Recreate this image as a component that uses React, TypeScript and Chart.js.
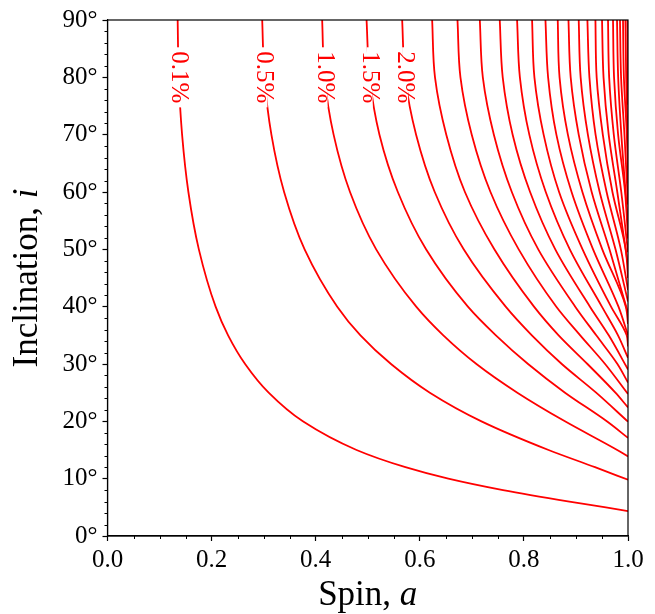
import { useEffect, useRef } from "react";
import { Chart, registerables } from "chart.js";

Chart.register(...registerables);

// contour levels (percent)
const levels = [0.1, 0.5, 1.0, 1.5, 2.0, 2.5, 3.0, 3.5, 4.0, 4.5, 5.0, 5.5, 6.0, 6.5, 7.0, 7.5, 8.0, 8.5, 9.0, 9.5, 10.0, 10.5, 11.0, 11.5, 12.0];
const labelledLevels = [0.1, 0.5, 1.0, 1.5, 2.0];
const labelInclination = 80;

// inclinations (deg) at which the spin of each contour is read
const inclinationGrid = [90, 80, 70, 60, 50, 40, 35, 30, 25, 20, 15, 12, 10, 8, 6, 5];

// spin a of each contour at the inclinations above (stops once the contour reaches a = 1)
const spin0p1 = [0.1348, 0.1368, 0.1433, 0.1554, 0.1755, 0.2077, 0.2317, 0.2644, 0.3096, 0.3753, 0.4785, 0.5724, 0.6548, 0.7599, 0.8874, 0.9575];
const spin0p5 = [0.2972, 0.3015, 0.3149, 0.3393, 0.3787, 0.4414, 0.486, 0.5447, 0.6193, 0.7185, 0.8474, 0.9366];
const spin1p0 = [0.4124, 0.417, 0.4344, 0.4659, 0.5162, 0.5931, 0.6452, 0.7088, 0.7874, 0.8789, 0.9793];
const spin1p5 = [0.4977, 0.5036, 0.5225, 0.5578, 0.612, 0.6924, 0.7462, 0.808, 0.879, 0.9593];
const spin2p0 = [0.5661, 0.5718, 0.5929, 0.6287, 0.6843, 0.765, 0.8153, 0.8728, 0.9388];
const spin2p5 = [0.6237, 0.6292, 0.6509, 0.6867, 0.7432, 0.8194, 0.8667, 0.9221, 0.9758];
const spin3p0 = [0.6724, 0.6781, 0.6998, 0.7358, 0.79, 0.8623, 0.9082, 0.956];
const spin3p5 = [0.7153, 0.7211, 0.7423, 0.7768, 0.8276, 0.8986, 0.939, 0.9797];
const spin4p0 = [0.7536, 0.7593, 0.7784, 0.8119, 0.8603, 0.9269, 0.963];
const spin4p5 = [0.7869, 0.7923, 0.8104, 0.842, 0.8882, 0.9498, 0.9808];
const spin5p0 = [0.8157, 0.8202, 0.8379, 0.8676, 0.9127, 0.9674, 0.9975];
const spin5p5 = [0.8414, 0.8465, 0.8624, 0.8916, 0.9329, 0.9817];
const spin6p0 = [0.865, 0.8685, 0.8845, 0.9124, 0.9506, 0.9958];
const spin6p5 = [0.8856, 0.8899, 0.9053, 0.9302, 0.9644];
const spin7p0 = [0.9053, 0.909, 0.9229, 0.9456, 0.976];
const spin7p5 = [0.922, 0.9259, 0.9377, 0.9589, 0.9863];
const spin8p0 = [0.9374, 0.9398, 0.9516, 0.9701, 0.9956];
const spin8p5 = [0.9501, 0.953, 0.9629, 0.9794];
const spin9p0 = [0.9616, 0.9638, 0.9727, 0.9871];
const spin9p5 = [0.9712, 0.9732, 0.981, 0.9943];
const spin10p0 = [0.9789, 0.9811, 0.9872];
const spin10p5 = [0.9846, 0.9867, 0.9932];
const spin11p0 = [0.9904, 0.9921, 0.9977];
const spin11p5 = [0.995, 0.9965];
const spin12p0 = [0.9988];

const spinByLevel = [
  spin0p1, spin0p5, spin1p0, spin1p5, spin2p0, spin2p5, spin3p0, spin3p5, spin4p0, spin4p5,
  spin5p0, spin5p5, spin6p0, spin6p5, spin7p0, spin7p5, spin8p0, spin8p5, spin9p0, spin9p5,
  spin10p0, spin10p5, spin11p0, spin11p5, spin12p0,
];

// inclination (deg) where each contour meets a = 1
const edgeInclination = [4.35, 9.81, 13.86, 17.11, 19.94, 22.43, 24.76, 26.77, 29.05, 31.08, 33.06, 35.02, 36.98, 38.92, 40.89, 42.9, 45.0, 47.16, 49.48, 51.87, 54.6, 57.8, 61.5, 66.5, 75.2];

const xTickValues = [0, 0.2, 0.4, 0.6, 0.8, 1.0];
const yTickValues = [0, 10, 20, 30, 40, 50, 60, 70, 80, 90];

const FONT = '"Liberation Serif", "DejaVu Serif", serif';
const RED = "#ff0000";

function drawMixed(ctx: CanvasRenderingContext2D, parts: [string, boolean][], cx: number, y: number, size: number) {
  let total = 0;
  const widths = parts.map(([t, it]) => {
    ctx.font = `${it ? "italic " : ""}${size}px ${FONT}`;
    const w = ctx.measureText(t).width;
    total += w;
    return w;
  });
  let x = cx - total / 2;
  ctx.textAlign = "left";
  ctx.textBaseline = "alphabetic";
  parts.forEach(([t, it], k) => {
    ctx.font = `${it ? "italic " : ""}${size}px ${FONT}`;
    ctx.fillText(t, x, y);
    x += widths[k];
  });
}

const decorPlugin = {
  id: "decor",
  afterDatasetsDraw(chart: any) {
    const { ctx, chartArea, scales } = chart;
    const { left, right, top, bottom } = chartArea;
    ctx.save();
    // inline contour labels
    labelledLevels.forEach((lvl) => {
      const k = levels.indexOf(lvl);
      const j = inclinationGrid.indexOf(labelInclination);
      const px = scales.x.getPixelForValue(spinByLevel[k][j]);
      const py = scales.y.getPixelForValue(labelInclination);
      const text = `${lvl.toFixed(1)}%`;
      ctx.font = `25px ${FONT}`;
      const w = ctx.measureText(text).width;
      ctx.fillStyle = "#ffffff";
      ctx.fillRect(px - 3, py - w / 2 - 4, 6, w + 8);
      ctx.translate(px, py);
      ctx.rotate(Math.PI / 2);
      ctx.fillStyle = RED;
      ctx.textAlign = "center";
      ctx.textBaseline = "alphabetic";
      ctx.fillText(text, 0, 7);
      ctx.setTransform(1, 0, 0, 1, 0, 0);
    });
    // frame
    ctx.strokeStyle = "#000";
    ctx.lineWidth = 1.2;
    ctx.strokeRect(left, top, right - left, bottom - top);
    ctx.restore();
  },
  afterDraw(chart: any) {
    const { ctx, chartArea, scales } = chart;
    const { left, right, top, bottom } = chartArea;
    ctx.save();
    ctx.strokeStyle = "#000";
    ctx.lineWidth = 1;
    // minor ticks
    for (let v = 0.05; v < 1; v += 0.05) {
      if (Math.abs(v / 0.2 - Math.round(v / 0.2)) < 1e-6) continue;
      const px = Math.round(scales.x.getPixelForValue(v)) + 0.5;
      ctx.beginPath();
      ctx.moveTo(px, bottom);
      ctx.lineTo(px, bottom + 3);
      ctx.stroke();
    }
    for (let v = 2; v < 90; v += 2) {
      if (v % 10 === 0) continue;
      const py = Math.round(scales.y.getPixelForValue(v)) + 0.5;
      ctx.beginPath();
      ctx.moveTo(left - 3, py);
      ctx.lineTo(left, py);
      ctx.stroke();
    }
    // axis titles
    ctx.fillStyle = "#000";
    drawMixed(ctx, [["Spin, ", false], ["a", true]], (left + right) / 2, 605, 35);
    ctx.translate(37, (top + bottom) / 2);
    ctx.rotate(-Math.PI / 2);
    drawMixed(ctx, [["Inclination, ", false], ["i", true]], 0, 0, 35);
    ctx.restore();
  },
};

export default function App() {
  const ref = useRef<HTMLCanvasElement | null>(null);
  useEffect(() => {
    if (!ref.current) return;
    const datasets = levels.map((lvl, k) => {
      const pts = spinByLevel[k].map((a, j) => ({ x: a, y: inclinationGrid[j] }));
      pts.push({ x: 1, y: edgeInclination[k] });
      return {
        label: `${lvl}%`,
        data: pts,
        borderColor: RED,
        backgroundColor: RED,
        borderWidth: 1.8,
        pointRadius: 0,
        cubicInterpolationMode: "monotone" as const,
        fill: false,
      };
    });
    const chart = new Chart(ref.current, {
      type: "line",
      data: { datasets },
      options: {
        indexAxis: "y",
        animation: false,
        responsive: false,
        maintainAspectRatio: false,
        layout: { padding: { top: 18, right: 27, left: 0, bottom: 0 } },
        plugins: { legend: { display: false }, tooltip: { enabled: false } },
        scales: {
          x: {
            type: "linear",
            min: 0,
            max: 1,
            afterFit: (s: any) => { s.height = 78; },
            afterBuildTicks: (s: any) => { s.ticks = xTickValues.map((v) => ({ value: v })); },
            ticks: {
              callback: (v: any) => Number(v).toFixed(1),
              font: { family: FONT, size: 25 },
              color: "#000",
              padding: 4,
              maxRotation: 0,
              autoSkip: false,
            },
            grid: { drawOnChartArea: false, drawTicks: true, tickLength: 5, tickWidth: 1.2, tickColor: "#000" },
            border: { display: true, color: "#000", width: 1.2 },
          },
          y: {
            type: "linear",
            min: 0,
            max: 90,
            afterFit: (s: any) => { s.width = 107.5; },
            afterBuildTicks: (s: any) => { s.ticks = yTickValues.map((v) => ({ value: v })); },
            ticks: {
              callback: (v: any) => `${v}°`,
              font: { family: FONT, size: 25 },
              color: "#000",
              padding: 5,
              autoSkip: false,
            },
            grid: { drawOnChartArea: false, drawTicks: true, tickLength: 5, tickWidth: 1.2, tickColor: "#000" },
            border: { display: true, color: "#000", width: 1.2 },
          },
        },
      },
      plugins: [decorPlugin],
    });
    return () => chart.destroy();
  }, []);
  return (
    <div style={{ position: "fixed", left: 0, top: 0, width: 655, height: 614, background: "#fff" }}>
      <canvas ref={ref} width={655} height={614} style={{ display: "block" }} />
    </div>
  );
}
